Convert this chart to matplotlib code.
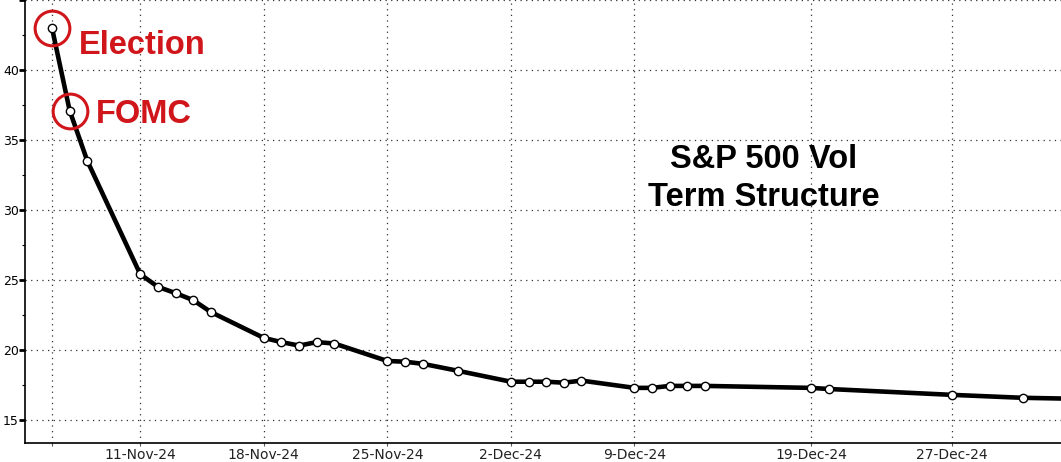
import matplotlib
matplotlib.use("Agg")
import matplotlib.pyplot as plt
import matplotlib.dates as mdates
from matplotlib.ticker import MultipleLocator, FixedLocator
import numpy as np

# S&P 500 implied vol by expiry
expiries = [
    "2024-11-06", "2024-11-07", "2024-11-08",
    "2024-11-11", "2024-11-12", "2024-11-13", "2024-11-14", "2024-11-15",
    "2024-11-18", "2024-11-19", "2024-11-20", "2024-11-21", "2024-11-22",
    "2024-11-25", "2024-11-26", "2024-11-27", "2024-11-29",
    "2024-12-02", "2024-12-03", "2024-12-04", "2024-12-05", "2024-12-06",
    "2024-12-09", "2024-12-10", "2024-12-11", "2024-12-12", "2024-12-13",
    "2024-12-19", "2024-12-20", "2024-12-27", "2024-12-31", "2025-01-03",
]
vols = [
    43.0, 37.1, 33.5,
    25.4, 24.5, 24.05, 23.55, 22.7,
    20.85, 20.55, 20.3, 20.55, 20.45,
    19.2, 19.15, 19.0, 18.5,
    17.72, 17.72, 17.72, 17.65, 17.8,
    17.28, 17.28, 17.42, 17.42, 17.42,
    17.28, 17.2, 16.78, 16.57, 16.5,
]

tick_dates = ["2024-11-06", "2024-11-11", "2024-11-18", "2024-11-25",
              "2024-12-02", "2024-12-09", "2024-12-19", "2024-12-27"]
tick_labels = ["", "11-Nov-24", "18-Nov-24", "25-Nov-24",
               "2-Dec-24", "9-Dec-24", "19-Dec-24", "27-Dec-24"]

events = {"Election": "2024-11-06", "FOMC": "2024-11-07"}

red = "#d0161b"

x = mdates.date2num(np.array(expiries, dtype="datetime64[D]"))
xt = mdates.date2num(np.array(tick_dates, dtype="datetime64[D]"))

W, H = 1061, 462
fig = plt.figure(figsize=(W / 100, H / 100), dpi=100)
ax = fig.add_axes([25 / W, 19 / H, 1 - 25 / W, 1 - 19 / H])

x0 = mdates.date2num(np.datetime64("2024-11-06"))
ax.set_xlim(x0 - 1.53, x0 + 57.17)
ax.set_ylim(13.34, 45.0)

ax.plot(x, vols, color="black", lw=3.3, marker="o", ms=6,
        mfc="white", mec="black", mew=1.0, zorder=3, clip_on=True)

# red circles + labels on the event points
offsets = {"Election": (27, -26), "FOMC": (26, -12)}
for name, d in events.items():
    i = expiries.index(d)
    ax.plot([x[i]], [vols[i]], marker="o", ms=25, mfc="none", mec=red,
            mew=2.2, zorder=4, clip_on=False)
    ax.annotate(name, (x[i], vols[i]), xytext=offsets[name],
                textcoords="offset pixels", ha="left", va="baseline",
                color=red, fontsize=23.5, fontweight="bold",
                family="Liberation Sans", zorder=5)

fig.text(764 / W, 1 - 168 / H, "S&P 500 Vol", ha="center", va="baseline",
         fontsize=23.5, fontweight="bold", family="Liberation Sans")
fig.text(764 / W, 1 - 206 / H, "Term Structure", ha="center", va="baseline",
         fontsize=23.5, fontweight="bold", family="Liberation Sans")

# axes styling
ax.xaxis.set_major_locator(FixedLocator(xt))
ax.set_xticklabels(tick_labels)
ax.yaxis.set_major_locator(MultipleLocator(5))
ax.yaxis.set_minor_locator(MultipleLocator(2.5))
ax.set_yticklabels([("" if v >= 45 or v < 15 else f"{v:.0f}")
                    for v in ax.get_yticks()])

ax.grid(True, which="major", color="#333333", lw=0.9, ls=(0, (1, 3.5)))
ax.set_axisbelow(True)

for s in ["top", "right"]:
    ax.spines[s].set_visible(False)
ax.spines["left"].set_linewidth(1.2)
ax.spines["bottom"].set_linewidth(1.2)

ax.tick_params(axis="y", which="major", direction="out", length=4, width=2,
               pad=0.5, labelsize=9)
ax.tick_params(axis="y", which="minor", direction="out", length=2.5, width=0.8)
ax.tick_params(axis="x", which="major", direction="out", length=2, width=0.8,
               color="#555555", pad=1.5, labelsize=10, labelcolor="#222222")
for lab in ax.get_xticklabels() + ax.get_yticklabels():
    lab.set_family("DejaVu Sans")

fig.savefig("out.png", dpi=100)
